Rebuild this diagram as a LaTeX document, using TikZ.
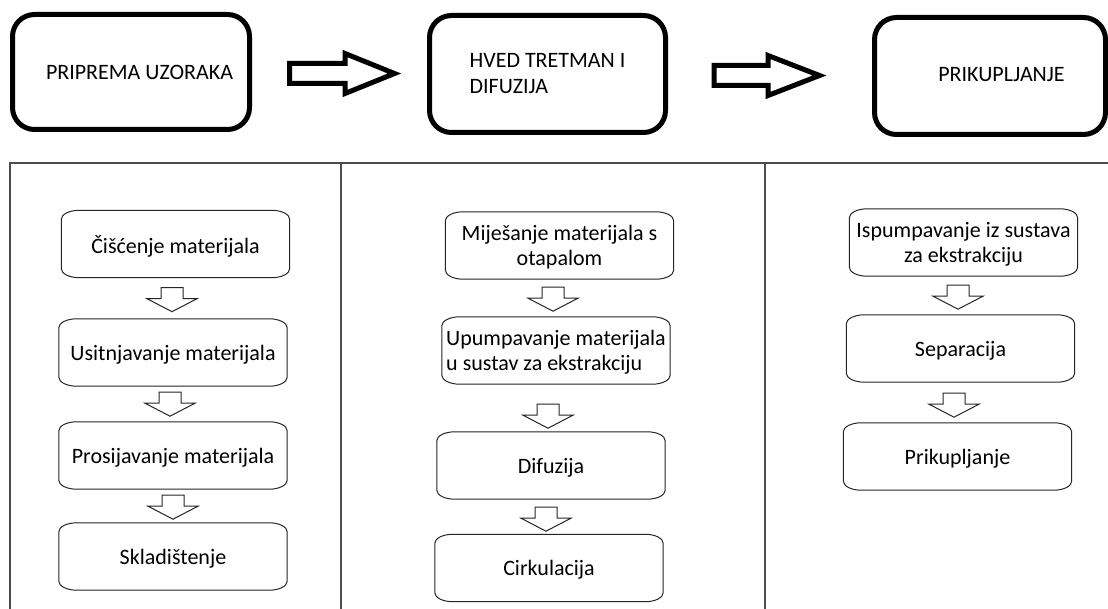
\documentclass[tikz,border=0pt]{standalone}
\usepackage{fontspec}
\setmainfont{Carlito}
\usetikzlibrary{positioning, calc}

% block arrow: [style]{start}{tip}{half shaft}{half head}{head length}
\newcommand{\blockarrow}[6][]{%
  \coordinate (ba-h) at ($(#3)!#6!(#2)$);
  \draw[#1] ($(#2)!#4!90:(#3)$) -- ($(ba-h)!#4!-90:(#2)$) -- ($(ba-h)!#5!-90:(#2)$)
    -- (#3) -- ($(ba-h)!#5!90:(#2)$) -- ($(ba-h)!#4!90:(#2)$) -- ($(#2)!#4!-90:(#3)$) -- cycle;}

% small arrow below a step box: {node}{gap}{xshift}
\newcommand{\stepdown}[3]{%
  \coordinate (#1-o) at ([xshift=#3pt,yshift=-#2pt]#1.south);
  \coordinate (#1-i) at ([yshift=-24pt]#1-o);
  \blockarrow[smallarrow]{#1-o}{#1-i}{11pt}{25pt}{13pt}}

\tikzset{
  topbox/.style={draw, line width=5pt, rounded corners=22pt, inner sep=0pt},
  toptext/.style={font=\fontsize{22}{26}\selectfont, align=left},
  procbox/.style={minimum width=228pt, minimum height=67pt, inner sep=2pt,
    text depth=0pt, align=center, font=\fontsize{22}{25.5}\selectfont},
  stepline/.style={draw=black!85, line width=1pt},
  bigarrow/.style={draw, line width=5pt, line join=miter},
  smallarrow/.style={draw=black!85, line width=1pt},
  frameline/.style={draw=black!70, line width=2pt}
}

\begin{document}
\begin{tikzpicture}[x=1pt, y=1pt]
    \fill[white] (0,0) rectangle (1108,-609);
    \useasboundingbox (0,0) rectangle (1108,-609);

    % top row
    \node[topbox, minimum width=237pt, minimum height=115pt] (prep) at (131,-72) {};
    \node[topbox, minimum width=236pt, minimum height=117pt] (hved) at (547.5,-74) {};
    \node[topbox, minimum width=231pt, minimum height=117pt] (prik) at (990,-76) {};

    \node[toptext] (prep-t) at ([xshift=8.5pt]prep.center) {PRIPREMA UZORAKA};
    \node[toptext] (hved-t) at (hved.center) {HVED TRETMAN I\\DIFUZIJA};
    \node[toptext] (prik-t) at ([xshift=11.5pt,yshift=1pt]prik.center) {PRIKUPLJANJE};

    \coordinate (a1s) at ([xshift=37.5pt,yshift=-1.5pt]prep.east);
    \coordinate (a1t) at ([xshift=-32.5pt]a1s -| hved.west);
    \blockarrow[bigarrow]{a1s}{a1t}{10pt}{20pt}{49.5pt}
    \coordinate (a2s) at ([xshift=46pt,yshift=-1.5pt]hved.east);
    \coordinate (a2t) at ([xshift=-52.5pt]a2s -| prik.west);
    \blockarrow[bigarrow]{a2s}{a2t}{10pt}{20pt}{51.5pt}

    % frame of the three columns
    \draw[frameline] (1108,-163) -- (10,-163) -- (10,-609);
    \draw[frameline] (341,-163) -- (341,-609);
    \draw[frameline] (765,-163) -- (765,-609);

    % first column
    \node[procbox] (c1a) at (175.5,-244) {Čišćenje materijala};
    \node[procbox] (c1b) at (173,-352.5) {Usitnjavanje materijala};
    \node[procbox] (c1c) at (173,-455.5) {Prosijavanje materijala};
    \node[procbox] (c1d) at (173,-556.5) {Skladištenje};
    \stepdown{c1a}{10}{-3.5}
    \stepdown{c1b}{6}{-3}
    \stepdown{c1c}{6}{0}

    % second column
    \node[procbox] (c2a) at (559.5,-245.5) {Miješanje materijala s\\otapalom};
    \node[procbox, inner xsep=1pt, align=left] (c2b) at (556,-350.5) {Upumpavanje materijala\\u sustav za ekstrakciju};
    \node[procbox] (c2c) at (551,-465.5) {Difuzija};
    \node[procbox] (c2d) at (549,-568) {Cirkulacija};
    \stepdown{c2a}{8}{-6.5}
    \stepdown{c2b}{20}{-8}
    \stepdown{c2c}{8}{-5}

    % third column
    \node[procbox] (c3a) at (963.5,-242.5) {Ispumpavanje iz sustava\\za ekstrakciju};
    \node[procbox] (c3b) at (960.5,-348.5) {Separacija};
    \node[procbox] (c3c) at (957.5,-456.5) {Prikupljanje};
    \stepdown{c3a}{9}{-5.5}
    \stepdown{c3b}{11}{-6.5}

    % outlines of the step boxes
    \foreach \n in {c1a,c1b,c1c,c1d,c2a,c2b,c2c,c2d,c3a,c3b,c3c}
        \draw[stepline] ([xshift=18pt]\n.north west) -- ([xshift=-18pt]\n.north east)
            arc[start angle=90, end angle=0, x radius=18pt, y radius=9pt]
            -- ([yshift=9pt]\n.south east)
            arc[start angle=0, end angle=-90, x radius=18pt, y radius=9pt]
            -- ([xshift=18pt]\n.south west)
            arc[start angle=270, end angle=180, x radius=18pt, y radius=9pt]
            -- ([yshift=-9pt]\n.north west)
            arc[start angle=180, end angle=90, x radius=18pt, y radius=9pt];
\end{tikzpicture}
\end{document}
